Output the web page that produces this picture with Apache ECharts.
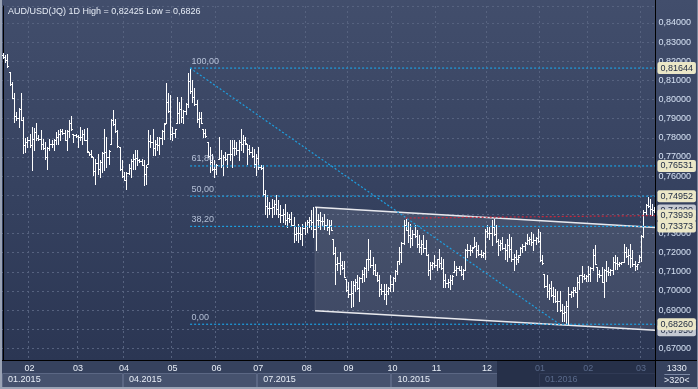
<!DOCTYPE html>
<html><head><meta charset="utf-8">
<script src="https://cdn.jsdelivr.net/npm/echarts@6/dist/echarts.min.js"></script>
<style>
html,body{margin:0;padding:0;width:698px;height:389px;overflow:hidden;
background:linear-gradient(180deg,#424e6c 0px,#35415f 200px,#2b3653 360px,#2b3653 389px);}
#c{width:698px;height:389px;}
</style></head><body><div id="c"></div>
<script>
// ---- data ----
const monthNames = ['01','02','03','04','05','06','07','08','09','10','11','12','01','02','03'];
const monthYears = [2015,2015,2015,2015,2015,2015,2015,2015,2015,2015,2015,2015,2016,2016,2016];
const monthBarCounts = [12,22,21,22,20,19,22,19,20,20,23,24,22,24,7];

const highs = [
.82425,.8232,.8240,.8143,.8091,.8033,.7934,.7955,.8033,.7908,
.7798,.7803,.7822,.7857,.7854,.7878,.7813,.7843,.7796,.7778,
.7752,.7796,.7787,.7796,.7831,.7840,.7848,.7848,.7843,.7840,
.7892,.7913,.7822,.7822,.7813,.7857,.7840,.7848,.7854,.7726,
.7735,.7700,.7691,.7718,.7683,.7726,.7848,.7805,.7735,.7901,
.7945,.7901,.7840,.7752,.7683,.7621,.7621,.7665,.7691,.7718,
.7735,.7735,.7691,.7691,.7683,.7657,.7840,.7813,.7848,.7787,
.7805,.7805,.7840,.7875,.8085,.8033,.8024,.7857,.7848,.8015,
.7989,.8015,.7945,.7980,.8137,.8164,.8102,.8059,.7997,.7936,
.7936,.7848,.7848,.7778,.7752,.7718,.7683,.7665,.7805,.7735,
.7709,.7726,.7718,.7787,.7787,.7787,.7778,.7787,.7848,.7813,
.7805,.7770,.7761,.7752,.7743,.7718,.7752,.7657,.7657,.7526,
.7499,.7464,.7482,.7473,.7499,.7473,.7447,.7430,.7456,.7412,
.7404,.7412,.7386,.7334,.7351,.7334,.7351,.7360,.7369,.7386,
.7421,.7438,.7438,.7404,.7412,.7386,.7404,.7377,.7369,.7369,
.7273,.7229,.7177,.7203,.7159,.7159,.7063,.7045,.7054,.7054,
.7063,.7081,.7072,.7107,.7124,.7168,.7273,.7212,.7177,.7142,
.7098,.7081,.7037,.7037,.7037,.7019,.7081,.7072,.7107,.7159,
.7229,.7256,.7369,.7377,.7360,.7351,.7316,.7343,.7316,.7290,
.7264,.7290,.7264,.7194,.7151,.7151,.7186,.7168,.7221,.7177,
.7168,.7090,.7063,.7081,.7081,.7159,.7133,.7133,.7133,.7116,
.7221,.7247,.7238,.7229,.7281,.7256,.7238,.7212,.7203,.7325,
.7343,.7334,.7369,.7377,.7343,.7273,.7264,.7281,.7247,.7273,
.7299,.7281,.7194,.7212,.7186,.7229,.7247,.7256,.7299,.7281,
.7308,.7299,.7281,.7325,.7308,.7186,.7090,.7081,.7037,.7054,
.7019,.7010,.7002,.7002,.6932,.6924,.6950,.7019,.7002,.7019,
.7019,.7072,.7081,.7133,.7090,.7081,.7133,.7124,.7221,.7238,
.7124,.7107,.7124,.7116,.7159,.7124,.7116,.7177,.7186,.7177,
.7151,.7151,.7247,.7229,.7221,.7247,.7212,.7159,.7142,.7186,
.7290,.7421,.7456,.7491,.7482,.7456,.7438];

const lows = [
.8215,.8197,.8170,.8075,.8007,.7882,.7892,.7856,.7892,.7719,
.7725,.7751,.7752,.7630,.7735,.7787,.7787,.7743,.7743,.7691,
.7639,.7735,.7752,.7735,.7770,.7770,.7787,.7822,.7787,.7735,
.7805,.7840,.7778,.7805,.7752,.7787,.7770,.7787,.7726,.7709,
.7700,.7604,.7561,.7613,.7595,.7622,.7630,.7648,.7665,.7770,
.7866,.7831,.7752,.7630,.7595,.7578,.7535,.7613,.7595,.7639,
.7639,.7657,.7674,.7657,.7552,.7561,.7665,.7752,.7709,.7709,
.7735,.7718,.7770,.7796,.7875,.7936,.7796,.7787,.7805,.7875,
.7875,.7883,.7875,.7927,.7962,.8033,.7988,.7971,.7883,.7857,
.7875,.7805,.7805,.7700,.7622,.7630,.7595,.7613,.7691,.7648,
.7604,.7683,.7648,.7683,.7648,.7709,.7718,.7683,.7735,.7726,
.7770,.7665,.7718,.7700,.7648,.7604,.7639,.7639,.7499,.7404,
.7386,.7404,.7386,.7404,.7404,.7386,.7360,.7360,.7351,.7334,
.7360,.7343,.7256,.7264,.7256,.7273,.7238,.7299,.7308,.7334,
.7325,.7281,.7212,.7334,.7325,.7343,.7325,.7316,.7299,.7316,
.7194,.7037,.7107,.7090,.7116,.7072,.7002,.6967,.6915,.6924,
.7002,.7010,.6950,.7045,.7054,.7072,.7107,.7124,.7090,.7081,
.7054,.6976,.6985,.6959,.6932,.6985,.7002,.7002,.7054,.7090,
.7142,.7151,.7247,.7316,.7256,.7229,.7238,.7281,.7229,.7203,
.7194,.7203,.7186,.7081,.7063,.7116,.7124,.7107,.7124,.7116,
.7019,.7019,.7019,.7010,.7037,.7098,.7081,.7107,.7081,.7063,
.7107,.7177,.7186,.7203,.7229,.7177,.7186,.7177,.7177,.7168,
.7281,.7273,.7238,.7290,.7256,.7186,.7212,.7221,.7168,.7159,
.7177,.7159,.7107,.7142,.7151,.7186,.7203,.7212,.7247,.7247,
.7238,.7212,.7247,.7256,.7159,.7142,.7019,.6967,.6959,.6976,
.6941,.6941,.6897,.6897,.6845,.6845,.6828,.6826,.6967,.6976,
.6993,.6915,.7010,.7045,.7063,.7054,.7054,.7054,.7107,.7142,
.7054,.7072,.7045,.6967,.7054,.7081,.7081,.7090,.7116,.7116,
.7133,.7142,.7151,.7177,.7142,.7125,.7133,.7107,.7116,.7151,
.7159,.7281,.7395,.7438,.7404,.7395,.7412];

const opens = [
.8235,.8220,.8205,.8143,.8080,.8010,.7913,.7905,.7950,.7895,
.7761,.7777,.7787,.7760,.7795,.7832,.7800,.7793,.7770,.7745,
.7700,.7745,.7770,.7766,.7790,.7805,.7818,.7835,.7825,.7790,
.7835,.7877,.7822,.7814,.7808,.7805,.7805,.7818,.7790,.7726,
.7718,.7700,.7626,.7666,.7639,.7674,.7720,.7727,.7700,.7770,
.7895,.7870,.7835,.7752,.7639,.7600,.7580,.7615,.7643,.7679,
.7687,.7696,.7683,.7678,.7660,.7609,.7665,.7783,.7779,.7748,
.7770,.7762,.7800,.7836,.7875,.7985,.7940,.7822,.7827,.7875,
.7932,.7949,.7910,.7940,.7975,.8099,.8045,.8015,.7975,.7897,
.7906,.7848,.7827,.7778,.7705,.7674,.7639,.7639,.7691,.7695,
.7657,.7700,.7690,.7715,.7718,.7748,.7748,.7735,.7780,.7770,
.7788,.7770,.7740,.7726,.7705,.7661,.7696,.7648,.7642,.7505,
.7443,.7434,.7434,.7439,.7452,.7430,.7404,.7395,.7404,.7373,
.7382,.7378,.7345,.7299,.7304,.7304,.7295,.7330,.7339,.7360,
.7373,.7360,.7325,.7369,.7369,.7365,.7365,.7347,.7334,.7343,
.7273,.7200,.7142,.7147,.7138,.7120,.7063,.7006,.6985,.6989,
.7033,.7046,.7015,.7070,.7089,.7120,.7165,.7168,.7134,.7112,
.7085,.7056,.7011,.6998,.6985,.7002,.7015,.7037,.7070,.7105,
.7155,.7204,.7250,.7347,.7318,.7290,.7277,.7300,.7285,.7247,
.7229,.7247,.7225,.7190,.7107,.7134,.7145,.7138,.7165,.7147,
.7120,.7055,.7041,.7046,.7059,.7098,.7107,.7120,.7110,.7090,
.7112,.7212,.7212,.7216,.7229,.7235,.7212,.7195,.7190,.7200,
.7312,.7303,.7303,.7333,.7300,.7260,.7238,.7251,.7225,.7216,
.7238,.7220,.7165,.7177,.7168,.7186,.7225,.7234,.7250,.7264,
.7273,.7255,.7264,.7278,.7260,.7164,.7090,.7024,.6998,.7015,
.6980,.6975,.6950,.6950,.6900,.6885,.6889,.6922,.6985,.6997,
.7006,.6995,.7046,.7081,.7076,.7068,.7080,.7089,.7120,.7190,
.7124,.7090,.7085,.7045,.7107,.7103,.7099,.7110,.7151,.7147,
.7142,.7147,.7151,.7203,.7182,.7186,.7173,.7140,.7129,.7151,
.7180,.7285,.7415,.7450,.7443,.7426,.7425];

const closes = [
.8220,.8205,.8175,.8080,.8010,.7913,.7905,.7950,.7895,.7761,
.7777,.7787,.7760,.7795,.7832,.7800,.7793,.7770,.7745,.7700,
.7745,.7770,.7766,.7790,.7805,.7818,.7835,.7825,.7790,.7835,
.7877,.7845,.7814,.7808,.7805,.7805,.7818,.7790,.7730,.7718,
.7705,.7626,.7666,.7639,.7674,.7720,.7727,.7700,.7730,.7895,
.7870,.7835,.7755,.7639,.7600,.7580,.7615,.7643,.7679,.7687,
.7696,.7683,.7678,.7660,.7609,.7650,.7783,.7779,.7748,.7770,
.7762,.7800,.7836,.7870,.7985,.7940,.7822,.7827,.7845,.7932,
.7949,.7910,.7940,.7975,.8099,.8045,.8015,.7975,.7897,.7906,
.7880,.7827,.7808,.7705,.7674,.7639,.7639,.7660,.7695,.7657,
.7700,.7690,.7715,.7718,.7748,.7748,.7735,.7780,.7770,.7788,
.7775,.7740,.7726,.7705,.7661,.7696,.7648,.7642,.7505,.7443,
.7434,.7434,.7439,.7452,.7430,.7404,.7395,.7404,.7373,.7382,
.7378,.7345,.7299,.7304,.7304,.7295,.7330,.7339,.7360,.7373,
.7360,.7325,.7369,.7369,.7365,.7365,.7347,.7334,.7343,.7320,
.7200,.7142,.7147,.7138,.7120,.7075,.7006,.6985,.6989,.7033,
.7046,.7015,.7070,.7089,.7120,.7165,.7168,.7134,.7112,.7085,
.7056,.7011,.6998,.6985,.7002,.7015,.7037,.7070,.7105,.7155,
.7204,.7250,.7347,.7318,.7290,.7277,.7300,.7285,.7247,.7229,
.7247,.7225,.7190,.7107,.7134,.7145,.7138,.7165,.7147,.7120,
.7055,.7041,.7046,.7059,.7078,.7107,.7120,.7110,.7090,.7112,
.7212,.7212,.7216,.7225,.7235,.7212,.7195,.7190,.7200,.7312,
.7303,.7303,.7333,.7300,.7260,.7238,.7251,.7225,.7216,.7238,
.7220,.7165,.7177,.7168,.7180,.7225,.7234,.7250,.7264,.7273,
.7255,.7264,.7278,.7260,.7164,.7145,.7024,.6998,.7015,.6980,
.6975,.6950,.6950,.6900,.6885,.6889,.6922,.6985,.6997,.7006,
.6995,.7046,.7081,.7076,.7068,.7080,.7089,.7120,.7190,.7142,
.7090,.7085,.7045,.7107,.7103,.7099,.7110,.7151,.7147,.7142,
.7147,.7150,.7203,.7182,.7186,.7173,.7140,.7129,.7140,.7180,
.7285,.7415,.7450,.7443,.7426,.7425,.7420];

// price axis range and tick step
const yAxisMin = 0.66393, yAxisMax = 0.84888, yTickStep = 0.01;

// Fibonacci retracement (from swing high bar to swing low bar)
const fibLevels = [0.81644, 0.76531, 0.74952, 0.73373, 0.68260];
const fibNames  = ['100,00', '61,80', '50,00', '38,20', '0,00'];
const fibHighBar = 85, fibLowBar = 253;

// channel (bar index, price)
const channelTop    = [[141.8, 0.7438], [296.5, 0.7332]];
const channelBottom = [[141.8, 0.6897], [296.5, 0.6795]];
// red resistance line
const redLine = [[183, 0.7381], [296.5, 0.73939]];

const titleText = 'AUD/USD(JQ) 1D High = 0,82425 Low = 0,6826';
const cornerTop = '1330', cornerBottom = '>320<';

// ---- build ----
const FONT = 'Liberation Sans, Arial, sans-serif';
const categories = [];
const monthStart = new Set();
const quarterStart = [];
let n = 0;
monthBarCounts.forEach((cnt, m) => {
  monthStart.add(n);
  if (['01','04','07','10'].includes(monthNames[m])) quarterStart.push(n);
  for (let k = 0; k < cnt; k++) { categories.push(monthYears[m] + '-' + monthNames[m] + '-' + (k + 1)); n++; }
});
const N = categories.length;
const xEnd = N - 0.5;
const fmt = v => v.toFixed(5).replace('.', ',');

const tagStyle = {
  show: true, distance: 2, fontSize: 9, fontFamily: FONT, color: '#1b2740',
  backgroundColor: '#ebe7c7', padding: [2, 3, 1, 3], borderRadius: 2
};
const greyTag = Object.assign({}, tagStyle, {backgroundColor: '#c5c9d2'});

const ohlcData = categories.map((c, i) => [i, opens[i], highs[i], lows[i], closes[i]]);

const series = [];
// channel fill
series.push({
  type: 'custom', xAxisIndex: 2, yAxisIndex: 0, silent: true, z: 1,
  data: [[0]],
  renderItem(params, api) {
    const pts = [channelTop[0], channelTop[1], channelBottom[1], channelBottom[0]].map(p => api.coord(p));
    return {type: 'polygon', shape: {points: pts},
      style: {fill: 'rgba(255,255,255,0.09)', stroke: 'rgba(255,255,255,0.12)', lineWidth: 1}};
  }
});
// channel bottom (with hidden grey tag)
series.push({type: 'line', xAxisIndex: 2, data: channelBottom, symbol: 'none', silent: true, z: 3,
  lineStyle: {color: '#e8e9ee', width: 1.5},
  endLabel: Object.assign({}, greyTag, {formatter: fmt(channelBottom[1][1])})});
series.push({type: 'line', xAxisIndex: 2, data: channelTop, symbol: 'none', silent: true, z: 3,
  lineStyle: {color: '#e8e9ee', width: 1.5}});
// OHLC bars
series.push({
  type: 'custom', xAxisIndex: 0, yAxisIndex: 0, data: ohlcData, silent: true, z: 4,
  encode: {x: 0, y: [1, 2, 3, 4]},
  renderItem(params, api) {
    const i = api.value(0);
    const pO = api.coord([i, api.value(1)]);
    const yH = api.coord([i, api.value(2)])[1];
    const yL = api.coord([i, api.value(3)])[1];
    const yC = api.coord([i, api.value(4)])[1];
    const cx = Math.round(pO[0]) + 0.5;
    const yo = Math.round(pO[1]) + 0.5, yc = Math.round(yC) + 0.5;
    const st = {stroke: '#ffffff', lineWidth: 1};
    return {type: 'group', children: [
      {type: 'line', shape: {x1: cx, y1: Math.round(yH), x2: cx, y2: Math.round(yL) + 1}, style: st},
      {type: 'line', shape: {x1: cx - 1.5, y1: yo, x2: cx, y2: yo}, style: st},
      {type: 'line', shape: {x1: cx, y1: yc, x2: cx + 1.5, y2: yc}, style: st}
    ]};
  }
});
// current price (grey tag)
series.push({type: 'line', xAxisIndex: 2, silent: true, symbol: 'none', z: 5,
  data: [[N - 1, closes[N - 1]], [xEnd, closes[N - 1]]], lineStyle: {opacity: 0},
  endLabel: Object.assign({}, greyTag, {formatter: fmt(closes[N - 1])})});
// diagonal of fib tool
series.push({type: 'line', xAxisIndex: 2, silent: true, symbol: 'none', z: 5,
  data: [[fibHighBar, fibLevels[0]], [fibLowBar, fibLevels[4]]],
  lineStyle: {color: '#1d9fe0', width: 1.2, type: [2, 2]}});
// red line
series.push({type: 'line', xAxisIndex: 2, silent: true, symbol: 'none', z: 6,
  data: redLine, lineStyle: {color: '#c8283c', width: 1.2, type: [2, 2]},
  endLabel: Object.assign({}, tagStyle, {formatter: fmt(redLine[1][1])})});
// fib horizontal levels
fibLevels.forEach((lv, k) => {
  series.push({type: 'line', xAxisIndex: 2, silent: true, symbol: 'none', z: 7,
    data: [[fibHighBar, lv], [xEnd, lv]],
    lineStyle: {color: '#1d9fe0', width: 1.2, type: [2, 2]},
    endLabel: Object.assign({}, tagStyle, {formatter: fmt(lv)})});
});
// fib level names
series.push({type: 'scatter', xAxisIndex: 2, silent: true, z: 8, symbolSize: 1,
  itemStyle: {color: 'rgba(0,0,0,0)'},
  data: fibLevels.map((lv, k) => ({value: [fibHighBar, lv], label: {formatter: fibNames[k]}})),
  label: {show: true, position: [2, -11], fontSize: 9, fontFamily: FONT, color: '#d3dff3'}});

const gridDash = {color: '#56627f', width: 1, type: [2, 3]};

const option = {
  animation: false,
  textStyle: {fontFamily: FONT},
  title: {text: titleText, left: 3, top: 2, textStyle: {fontSize: 9, fontWeight: 'normal', color: '#e6ecf6', fontFamily: FONT}},
  grid: {left: 2, top: 6, width: 653.4, height: 354, containLabel: false, outerBoundsMode: 'none'},
  xAxis: [
    {type: 'category', position: 'bottom', data: categories, boundaryGap: true,
      axisLine: {show: true, lineStyle: {color: '#000', width: 1}}, axisTick: {show: false},
      axisLabel: {interval: (i) => monthStart.has(i) && i > 0, margin: 4, fontSize: 9, color: '#e8eef7', fontFamily: FONT, hideOverlap: false,
        formatter: (v) => { const p = v.split('-'); return p[0] === '2016' ? '{d|' + p[1] + '}' : p[1]; },
        rich: {d: {color: '#5a6a8b', fontSize: 9, fontFamily: FONT}}},
      splitLine: {show: true, interval: (i) => monthStart.has(i) && i > 0, lineStyle: gridDash}},
    {type: 'category', position: 'bottom', data: categories, boundaryGap: true, offset: 11,
      axisLine: {show: false}, axisTick: {show: false}, splitLine: {show: false},
      axisLabel: {interval: (i) => quarterStart.includes(i), margin: 4, fontSize: 9, color: '#e8eef7', fontFamily: FONT,
        align: 'left', padding: [0, 0, 0, 5], hideOverlap: false,
        formatter: (v) => { const p = v.split('-'); const t = p[1] + '.' + p[0]; return p[0] === '2016' ? '{d|' + t + '}' : t; },
        rich: {d: {color: '#5a6a8b', fontSize: 9, fontFamily: FONT}}}},
    {type: 'value', position: 'bottom', min: -0.5, max: xEnd, show: false}
  ],
  yAxis: [{type: 'value', position: 'right', min: yAxisMin, max: yAxisMax,
    minInterval: yTickStep, maxInterval: yTickStep, splitNumber: 18, scale: true,
    axisLine: {show: true, lineStyle: {color: '#000', width: 1}}, axisTick: {show: false},
    axisLabel: {showMinLabel: false, showMaxLabel: false, margin: 3, fontSize: 9, color: '#d5e1f3', fontFamily: FONT,
      formatter: (v) => (Math.abs(v / yTickStep - Math.round(v / yTickStep)) < 1e-6 ? fmt(v) : '')},
    splitLine: {show: true, lineStyle: gridDash}}],
  series: series
};

const chart = echarts.init(document.getElementById('c'));
chart.setOption(option);

// decorations for the time band (positions derived from the axis)
const px = (v) => chart.convertToPixel({xAxisIndex: 2}, v);
const plotRight = px(xEnd);
const shadeFrom = px(224.5);
const g = [];
g.push({type: 'rect', z: -20, shape: {x: 0, y: 361, width: plotRight, height: 27}, style: {fill: '#36425e'}});
const qEdges = quarterStart.map(q => px(q - 0.5));
qEdges.forEach((x0, k) => {
  const x1 = k + 1 < qEdges.length ? qEdges[k + 1] : plotRight;
  g.push({type: 'rect', z: -19, shape: {x: Math.round(x0) + 0.5, y: 373.5, width: Math.round(x1 - x0) - 1, height: 14},
    style: {fill: '#46526e', stroke: '#5b6784', lineWidth: 1}});
});
g.push({type: 'rect', z: -18, shape: {x: shadeFrom, y: 361, width: plotRight - shadeFrom, height: 27}, style: {fill: '#263049'}});
g.push({type: 'rect', z: -18, shape: {x: Math.round(px(quarterStart[quarterStart.length - 1] - 0.5)) + 0.5, y: 373.5,
  width: plotRight - px(quarterStart[quarterStart.length - 1] - 0.5) - 1, height: 13}, style: {fill: 'none', stroke: '#303a55', lineWidth: 1}});
g.push({type: 'rect', z: -20, shape: {x: plotRight, y: 361, width: 698 - plotRight, height: 27}, style: {fill: '#36425e'}});
g.push({type: 'line', z: 20, shape: {x1: Math.round(plotRight) + 0.5, y1: 0, x2: Math.round(plotRight) + 0.5, y2: 389}, style: {stroke: '#000', lineWidth: 1}});
g.push({type: 'line', z: 20, shape: {x1: 0, y1: 360.5, x2: 698, y2: 360.5}, style: {stroke: '#000', lineWidth: 1}});
g.push({type: 'text', z: 21, x: (plotRight + 698) / 2, y: 369, style: {text: cornerTop, fill: '#e8eef7', font: '9px ' + FONT, textAlign: 'center', textVerticalAlign: 'middle'}});
g.push({type: 'line', z: 21, shape: {x1: plotRight + 9, y1: 374.5, x2: 690, y2: 374.5}, style: {stroke: '#7d8aa6', lineWidth: 1}});
g.push({type: 'text', z: 21, x: (plotRight + 698) / 2, y: 381, style: {text: cornerBottom, fill: '#e8eef7', font: '9px ' + FONT, textAlign: 'center', textVerticalAlign: 'middle'}});
g.push({type: 'rect', z: 22, shape: {x: 0, y: 0, width: 2, height: 389}, style: {fill: '#9aa3b5'}});
g.push({type: 'rect', z: 22, shape: {x: 0, y: 387, width: 698, height: 2}, style: {fill: '#9aa3b5'}});
g.push({type: 'rect', z: 22, shape: {x: 697, y: 0, width: 1, height: 389}, style: {fill: '#7d869a'}});
chart.setOption({graphic: g});
</script></body></html>
